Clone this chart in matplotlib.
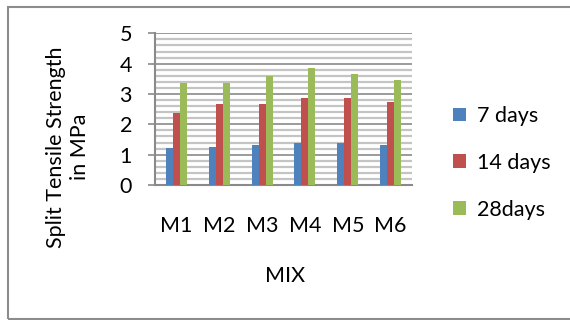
import numpy as np
import matplotlib.pyplot as plt
from matplotlib.patches import Rectangle
from matplotlib.ticker import MultipleLocator

plt.rcParams['font.family'] = ['Lato', 'DejaVu Sans']

mixes = ["M1", "M2", "M3", "M4", "M5", "M6"]
days7 = [1.21, 1.26, 1.32, 1.38, 1.38, 1.32]
days14 = [2.36, 2.67, 2.67, 2.87, 2.87, 2.75]
days28 = [3.35, 3.35, 3.60, 3.86, 3.66, 3.46]
series_labels = ["7 days", "14 days", "28days"]
colors = ["#4F81BD", "#C0504D", "#9BBB59"]
fs = 15.5

fig = plt.figure(figsize=(5.7, 3.2), dpi=100)
ax = fig.add_axes([155/570, 1-185/320, 257/570, (185-33.3)/320])

x = np.arange(len(mixes))
w = 0.164
for i, (vals, lab, col) in enumerate(zip([days7, days14, days28], series_labels, colors)):
    ax.bar(x + (i-1)*w, vals, width=w, color=col, label=lab, zorder=3)

ax.set_xlim(-0.5, len(mixes)-0.5)
ax.set_ylim(0, 5)
ax.yaxis.set_major_locator(MultipleLocator(1))
ax.yaxis.set_minor_locator(MultipleLocator(0.2))
ax.grid(which='minor', axis='y', color='#c4c4c4', linewidth=1.6, zorder=0)
ax.grid(which='major', axis='y', color='#8a8a8a', linewidth=1.2, zorder=1)
ax.set_xticks(x)
ax.set_xticklabels(mixes)

for s in ['top', 'right']:
    ax.spines[s].set_visible(False)
for s in ['left', 'bottom']:
    ax.spines[s].set_color('#8a8a8a')
    ax.spines[s].set_linewidth(1.5)

ax.tick_params(axis='y', which='major', direction='out', length=5, width=1.2,
               color='#8a8a8a', labelsize=fs, pad=11.5)
ax.tick_params(axis='y', which='minor', length=0)
ax.tick_params(axis='x', length=0, labelsize=fs, pad=22)

fig.text(68/570, 1-147/320, "Split Tensile Strength\nin MPa", rotation=90,
         ha='center', va='center', multialignment='center', fontsize=fs,
         linespacing=1.25)
fig.text(285/570, 1-276/320, "MIX", ha='center', va='center', fontsize=fs)

fig.legend(loc='center left', bbox_to_anchor=(453/570, 1-163/320), frameon=False,
           fontsize=fs, handlelength=0.62, handleheight=0.62, handletextpad=0.5,
           labelspacing=1.25, borderpad=0, borderaxespad=0)

# outer chart border
fig.patches.append(Rectangle((8/570, 1/320), 1.1, 312/320, transform=fig.transFigure,
                             fill=False, edgecolor='#8c8c8c', linewidth=1.5))

fig.savefig("out.png", dpi=100)
